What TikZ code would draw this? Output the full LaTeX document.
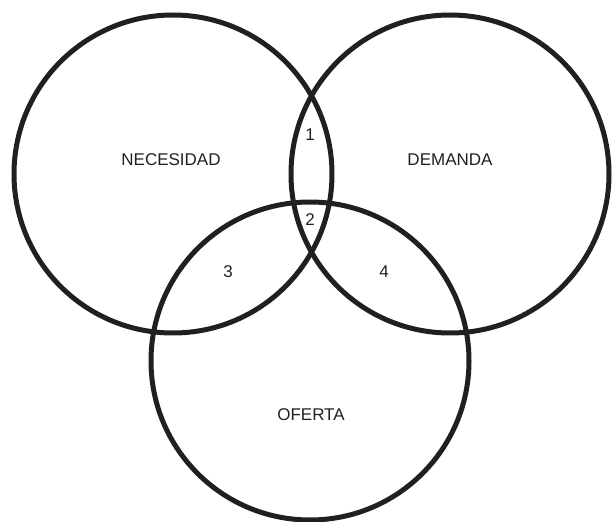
\documentclass[tikz,border=0pt]{standalone}
\usepackage{fontspec}
\setmainfont{Liberation Sans}
\definecolor{ink}{HTML}{231F20}
\begin{document}
\begin{tikzpicture}[x=1pt,y=-1pt,
  ring/.style={circle,draw=ink,line width=5pt,minimum size=318pt,inner sep=0pt},
  lbl/.style={text=ink,font=\fontsize{17}{19}\selectfont,inner sep=0pt}]
\useasboundingbox (0,0) rectangle (614,522);
\node[ring] (nec) at (173,174) {};
\node[ring] (dem) at (450,174) {};
\node[ring] (ofe) at (310,361) {};
\node[lbl] (tn) at (171,160) {NECESIDAD};
\node[lbl] (td) at (450,160) {DEMANDA};
\node[lbl] (to) at (311,415) {OFERTA};
\node[lbl] (n1) at (310,135) {1};
\node[lbl] (n2) at (310,220) {2};
\node[lbl] (n3) at (228,272) {3};
\node[lbl] (n4) at (384,272) {4};
\end{tikzpicture}
\end{document}
